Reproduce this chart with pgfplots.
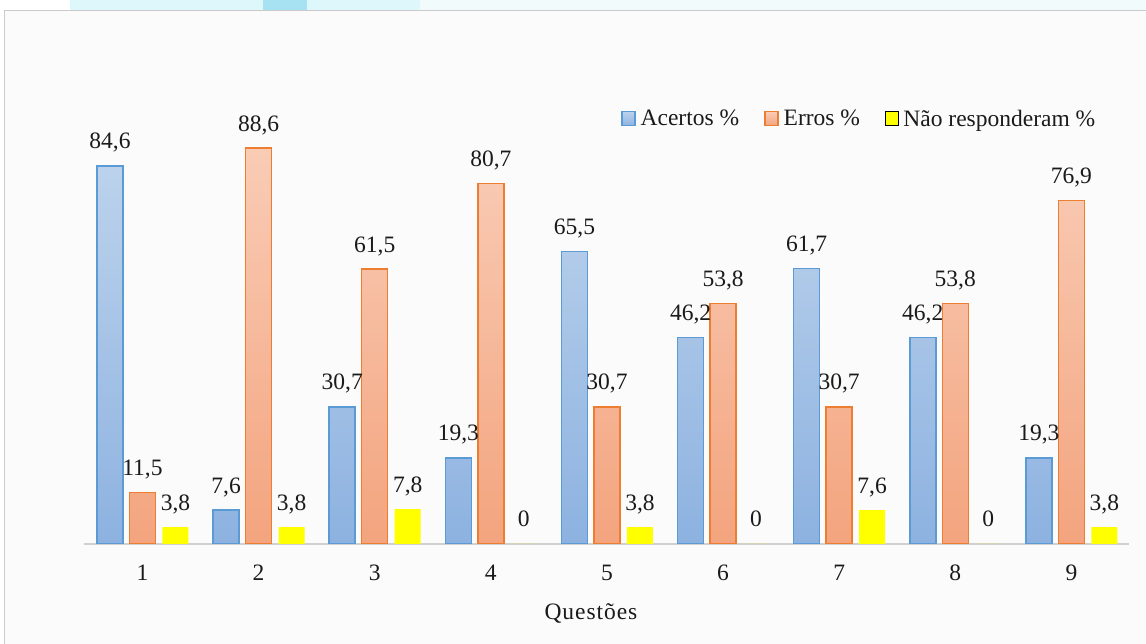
\documentclass[border=0pt]{standalone}
\usepackage{fontspec}
\setmainfont{Liberation Serif}
\newfontfamily\spacedfont[LetterSpace=4]{Liberation Serif}
\usepackage{pgfplots}
\pgfplotsset{compat=1.18}

\definecolor{acBorder}{HTML}{5B9BD5}
\definecolor{acTop}{HTML}{BCD2EC}
\definecolor{acBottom}{HTML}{8DB2E0}
\definecolor{erBorder}{HTML}{ED7D31}
\definecolor{erTop}{HTML}{F9CCB6}
\definecolor{erBottom}{HTML}{F3A47E}
\definecolor{naFill}{HTML}{FFFF00}
\definecolor{txt}{HTML}{1A1A1A}
\definecolor{frameGray}{HTML}{CACACA}
\definecolor{axisGray}{HTML}{D0D0D0}
\definecolor{cyanA}{HTML}{DDF7FB}
\definecolor{cyanB}{HTML}{A6E2F2}
\definecolor{cyanC}{HTML}{F2FBFC}

\begin{document}
\begin{tikzpicture}[font=\fontsize{23.5pt}{28pt}\selectfont]
\path[use as bounding box] (0,0) rectangle (1146pt,644pt);
% screenshot frame and the blurred strip above it
\fill[white!97!gray] (4pt,0pt) rectangle (1146pt,633pt);
\fill[cyanC] (420pt,633pt) rectangle (1146pt,644pt);
\fill[cyanA] (70pt,633pt) rectangle (420pt,644pt);
\fill[cyanB] (263pt,633pt) rectangle (307pt,644pt);
\draw[frameGray, line width=1pt] (4pt,0pt) -- (4pt,633pt) -- (1146pt,633pt);

\begin{axis}[
    at={(84.4pt,100pt)}, anchor=south west,
    width=1045.2pt, height=446.8pt, scale only axis,
    xmin=0.5, xmax=9.5, ymin=0, ymax=100,
    axis x line*=bottom, axis y line=none,
    x axis line style={draw=axisGray, line width=1.5pt, -},
    xtick={1,...,9}, ytick=\empty,
    major tick length=0pt,
    xticklabel style={anchor=base, yshift=-37pt, text=txt},
    xlabel={\spacedfont Questões},
    xlabel style={at={(axis description cs:0.5,0)}, anchor=base,
        yshift=-76pt, xshift=-16pt, text=txt},
    /pgf/number format/.cd, use comma, fixed, precision=1, assume math mode=true,
    /pgfplots/.cd,
    nodes near coords,
    nodes near coords style={anchor=base, inner sep=0pt, yshift=17pt, text=txt},
    legend columns=-1,
    legend style={draw=none, fill=none, at={(0.5134,0.952)}, anchor=west,
        inner sep=0pt, nodes={inner xsep=5pt, inner ysep=0pt, text=txt},
        /tikz/every even column/.append style={column sep=20pt}},
    legend image code/.code={\draw[#1] (0pt,-7pt) rectangle (13pt,7pt);},
]
\addplot[ybar, bar width=26pt, bar shift=-32.5pt, draw=acBorder, line width=1.5pt,
    top color=acTop, bottom color=acBottom,
    nodes near coords style={xshift=-32.5pt}] coordinates {
    (1,84.6) (2,7.6) (3,30.7) (4,19.3) (5,65.5) (6,46.2) (7,61.7) (8,46.2) (9,19.3)
};
\addlegendentry{Acertos \%}
\addplot[ybar, bar width=26pt, bar shift=0pt, draw=erBorder, line width=1.5pt,
    top color=erTop, bottom color=erBottom] coordinates {
    (1,11.5) (2,88.6) (3,61.5) (4,80.7) (5,30.7) (6,53.8) (7,30.7) (8,53.8) (9,76.9)
};
\addlegendentry{Erros \%}
\addplot[ybar, bar width=26pt, bar shift=33pt, draw=none, fill=naFill,
    nodes near coords style={xshift=33pt}] coordinates {
    (1,3.8) (2,3.8) (3,7.8) (4,0) (5,3.8) (6,0) (7,7.6) (8,0) (9,3.8)
};
\addlegendentry{Não responderam \%}
\end{axis}
\end{tikzpicture}
\end{document}
